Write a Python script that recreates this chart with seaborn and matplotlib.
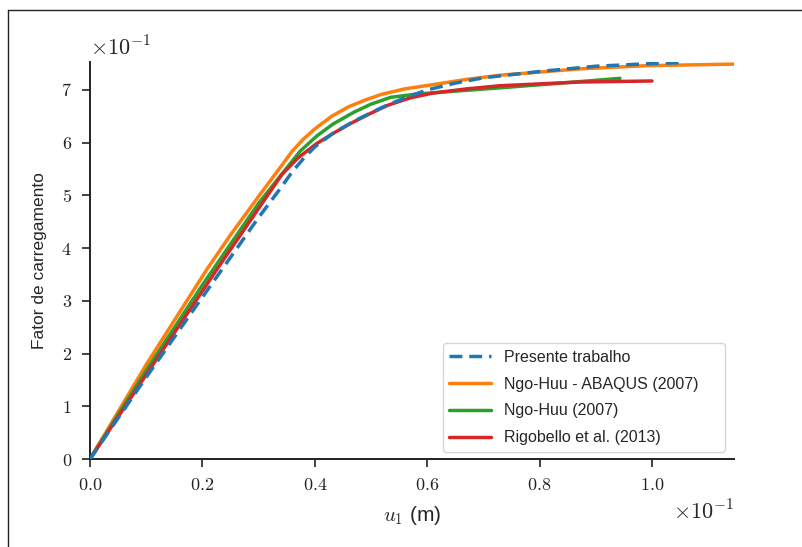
import numpy as np
import pandas as pd
import matplotlib
matplotlib.use("Agg")
import matplotlib.pyplot as plt
from matplotlib.lines import Line2D
from matplotlib.ticker import FuncFormatter, FixedLocator
import seaborn as sns

# Data (real units: u1 in m, load factor) -- axes show them x10^-1
blue_x = [0, 0.010, 0.020, 0.030, 0.034, 0.036, 0.038, 0.040, 0.043, 0.047, 0.052,
          0.056, 0.060, 0.065, 0.070, 0.080, 0.090, 0.100, 0.1059]
blue_y = [0, 0.155, 0.307, 0.458, 0.515, 0.545, 0.570, 0.592, 0.616, 0.641, 0.667,
          0.685, 0.700, 0.713, 0.723, 0.735, 0.745, 0.750, 0.752]

orange_x = [0, 0.010, 0.02076, 0.025, 0.030, 0.0335, 0.036, 0.038, 0.040, 0.043,
            0.046, 0.049, 0.052, 0.056, 0.061, 0.067, 0.073, 0.0872, 0.099, 0.1146]
orange_y = [0, 0.179, 0.359, 0.425, 0.498, 0.548, 0.584, 0.607, 0.626, 0.650,
            0.668, 0.681, 0.692, 0.702, 0.710, 0.720, 0.728, 0.740, 0.746, 0.749]

green_x = [0, 0.010, 0.020, 0.030, 0.0347, 0.0374, 0.0404, 0.0432, 0.047, 0.050,
           0.0535, 0.058, 0.064, 0.073, 0.085, 0.0943]
green_y = [0, 0.168, 0.330, 0.485, 0.548, 0.584, 0.613, 0.635, 0.658, 0.673,
           0.686, 0.692, 0.697, 0.704, 0.714, 0.722]

red_x = [0, 0.010, 0.02254, 0.0341, 0.037, 0.0403, 0.0435, 0.0463, 0.050, 0.053,
         0.057, 0.061, 0.067, 0.073, 0.087, 0.100]
red_y = [0, 0.160, 0.359, 0.539, 0.571, 0.598, 0.619, 0.636, 0.656, 0.671,
         0.685, 0.694, 0.702, 0.708, 0.715, 0.717]

labels = ["Presente trabalho", "Ngo-Huu - ABAQUS (2007)", "Ngo-Huu (2007)",
          "Rigobello et al. (2013)"]
x_ticks = [0.0, 0.02, 0.04, 0.06, 0.08, 0.10]
y_ticks = [0.0, 0.1, 0.2, 0.3, 0.4, 0.5, 0.6, 0.7]

sns.set_style("ticks")
plt.rcParams["mathtext.fontset"] = "cm"
plt.rcParams["font.family"] = ["Liberation Sans", "DejaVu Sans"]

fig = plt.figure(figsize=(8.03, 5.47), dpi=100)
ax = fig.add_axes([90 / 803, 1 - 459 / 547, (734 - 90) / 803, (459 - 62) / 547])

pal = sns.color_palette("tab10")
series = [(blue_x, blue_y, pal[0], (0, (3.7, 2.0))),
          (orange_x, orange_y, pal[1], "-"),
          (green_x, green_y, pal[2], "-"),
          (red_x, red_y, pal[3], "-")]
for (xs, ys, c, ls), lab in zip(series, labels):
    df = pd.DataFrame({"u": xs, "f": ys})
    sns.lineplot(data=df, x="u", y="f", ax=ax, color=c, linestyle=ls, lw=2.5,
                 sort=False, label=lab, estimator=None)

ax.lines[0].set_zorder(5)

ax.set_xlim(0, max(orange_x))
ax.set_ylim(0, max(blue_y) + 0.001)
ax.xaxis.set_major_locator(FixedLocator(x_ticks))
ax.yaxis.set_major_locator(FixedLocator(y_ticks))
ax.xaxis.set_major_formatter(FuncFormatter(lambda v, p: f"${v * 10:.1f}$"))
ax.yaxis.set_major_formatter(FuncFormatter(lambda v, p: f"${v * 10:.0f}$"))
ax.tick_params(axis="both", labelsize=13, length=6, width=1.2, colors="#222222")
ax.tick_params(axis="y", pad=7)
ax.tick_params(axis="x", pad=7)
for s in ["left", "bottom"]:
    ax.spines[s].set_linewidth(1.4)
    ax.spines[s].set_color("#222222")
sns.despine(ax=ax)

ax.set_xlabel(r"$u_1$ (m)", fontsize=15, labelpad=7)
ax.set_ylabel("Fator de carregamento", fontsize=12.5, labelpad=10)

ax.text(0.0, 1.005, r"$\times10^{-1}$", transform=ax.transAxes, fontsize=16,
        ha="left", va="bottom")
ax.text(1.0, -0.105, r"$\times10^{-1}$", transform=ax.transAxes, fontsize=16,
        ha="right", va="top")

leg = ax.legend(loc="lower left", bbox_to_anchor=(0.548, 0.018, 0.438, 0.27),
                mode="expand", borderaxespad=0, fontsize=11.5, frameon=True,
                handlelength=2.6, labelspacing=0.75)
leg.get_frame().set_edgecolor("#cccccc")
leg.get_frame().set_linewidth(1.0)

# figure border (top and left)
fig.add_artist(Line2D([8 / 803, 1.0], [1 - 10 / 547, 1 - 10 / 547],
                      transform=fig.transFigure, color="#222222", lw=1.0))
fig.add_artist(Line2D([8 / 803, 8 / 803], [0, 1 - 10 / 547],
                      transform=fig.transFigure, color="#222222", lw=1.0))

fig.savefig("out.png", dpi=100)
